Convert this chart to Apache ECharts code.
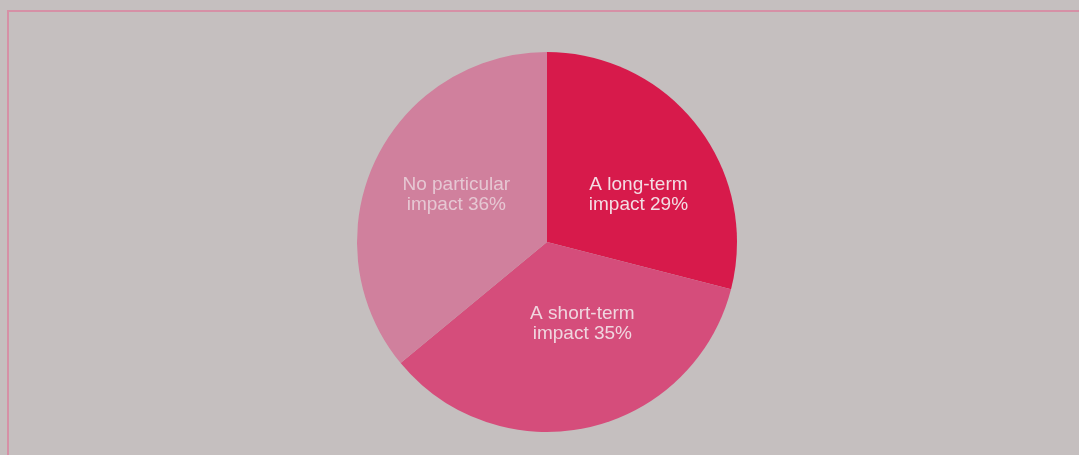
<!DOCTYPE html>
<html>
<head>
<meta charset="utf-8">
<script src="https://cdn.jsdelivr.net/npm/echarts@6/dist/echarts.min.js"></script>
<style>
  html, body { margin: 0; padding: 0; background: #c5bfbf; }
  #main { width: 1079px; height: 455px; }
</style>
</head>
<body>
<div id="main"></div>
<script>
// data
var categories = ['A long-term\nimpact', 'A short-term\nimpact', 'No particular\nimpact'];
var shares = [29, 35, 36];

var sliceColors = ['#d71a4b', '#d54d7b', '#d0809d'];
var labelColors = ['#f3dde4', '#f0d6df', '#e6c7d3'];
var labelOffsets = [[14, 13], [14, -14], [-2, -6]];

var myChart = echarts.init(document.getElementById('main'));

var pieData = categories.map(function (c, i) {
    return {
        name: c,
        value: shares[i],
        itemStyle: { color: sliceColors[i] },
        label: { color: labelColors[i], offset: labelOffsets[i] }
    };
});

var option = {
    backgroundColor: '#c5bfbf',
    animation: false,
    graphic: [
        {
            type: 'rect',
            shape: { x: 8, y: 11, width: 1100, height: 500 },
            style: { fill: 'none', stroke: '#d690a6', lineWidth: 2 }
        }
    ],
    series: [
        {
            type: 'pie',
            center: [547, 242],
            radius: [0, 190],
            startAngle: 90,
            clockwise: true,
            silent: true,
            itemStyle: { borderWidth: 0 },
            label: {
                show: true,
                position: 'inside',
                formatter: '{b} {c}%',
                fontFamily: 'Liberation Sans, Arial, sans-serif',
                fontSize: 19,
                lineHeight: 20,
                align: 'center'
            },
            labelLine: { show: false },
            data: pieData
        }
    ]
};

myChart.setOption(option);
</script>
</body>
</html>
